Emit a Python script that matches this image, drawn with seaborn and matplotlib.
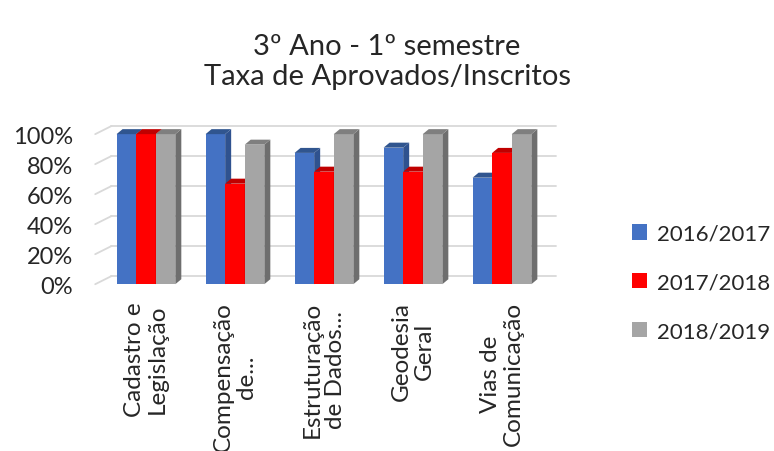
import matplotlib
matplotlib.use('Agg')
import matplotlib.pyplot as plt
from matplotlib.patches import Polygon
from matplotlib.ticker import PercentFormatter
import matplotlib.transforms as mtransforms
import seaborn as sns
import pandas as pd

disciplinas = ['Cadastro e\nLegislação', 'Compensação\nde...', 'Estruturação\nde Dados...',
               'Geodesia\nGeral', 'Vias de\nComunicação']
anos = ['2016/2017', '2017/2018', '2018/2019']
taxa_1617 = [1.00, 1.00, 0.875, 0.91, 0.71]
taxa_1718 = [1.00, 0.67, 0.75, 0.75, 0.875]
taxa_1819 = [1.00, 0.93, 1.00, 1.00, 1.00]
cores = ['#4472C4', '#FF0000', '#A5A5A5']
cores_lado = ['#2F528F', '#C00000', '#6E6E6E']
cores_topo = ['#30558F', '#C00000', '#7F7F7F']

df = pd.DataFrame({
    'Disciplina': disciplinas * 3,
    'Ano': [a for a in anos for _ in disciplinas],
    'Taxa': taxa_1617 + taxa_1718 + taxa_1819,
})

sns.set_style('white')
plt.rcParams['font.family'] = ['Lato', 'DejaVu Sans']

fig = plt.figure(figsize=(7.74, 4.52), dpi=100)
ax = fig.add_axes([0.123, 0.369, 0.575, 0.332])

sns.barplot(data=df, x='Disciplina', y='Taxa', hue='Ano', palette=cores,
            width=0.66, saturation=1, linewidth=0, ax=ax, legend=True)

ax.set_ylim(0, 1)
ax.set_xlim(-0.57, 4.43)
ax.yaxis.set_major_formatter(PercentFormatter(1.0, decimals=0))
ax.set_yticks([0, 0.2, 0.4, 0.6, 0.8, 1.0])
ax.tick_params(axis='y', labelsize=17, length=0, pad=16)
ax.tick_params(axis='x', labelsize=17.5, length=0, pad=12)
for lbl in ax.get_xticklabels():
    lbl.set_rotation(90)
    lbl.set_multialignment('center')
    lbl.set_va('top')
    lbl.set_linespacing(1.15)
ax.set_xlabel('')
ax.set_ylabel('')
sns.despine(ax=ax, left=True, bottom=True)

# back wall gridlines (shifted up/right) and slanted side-wall lines
dx_px, dy_px = 16, 8
back = mtransforms.offset_copy(ax.transData, fig=fig, x=dx_px, y=dy_px, units='dots')
x0, x1 = ax.get_xlim()
for v in ax.get_yticks():
    ax.plot([x0, x1], [v, v], color='#D9D9D9', lw=1.3,
            transform=back, clip_on=False, zorder=1)
    p0 = ax.transData.transform((x0, v))
    ax.plot([p0[0], p0[0] + dx_px], [p0[1], p0[1] + dy_px], color='#D9D9D9', lw=1.3,
            transform=mtransforms.IdentityTransform(), clip_on=False, zorder=1)

# 3D side and top faces derived from the drawn bars
sx, sy = 6, 5
for i, (cont, c_lado, c_topo) in enumerate(zip(ax.containers, cores_lado, cores_topo)):
    for bar in cont:
        bar.set_zorder(3 + i)
        x, w, h = bar.get_x(), bar.get_width(), bar.get_height()
        (xl, yb), (xr, yt) = ax.transData.transform([(x, 0), (x + w, h)])
        lado = Polygon([(xr, yb), (xr + sx, yb + sy), (xr + sx, yt + sy), (xr, yt)],
                       closed=True, facecolor=c_lado, edgecolor='none',
                       transform=mtransforms.IdentityTransform(), clip_on=False, zorder=3.5 + i)
        topo = Polygon([(xl, yt), (xl + sx, yt + sy), (xr + sx, yt + sy), (xr, yt)],
                       closed=True, facecolor=c_topo, edgecolor='none',
                       transform=mtransforms.IdentityTransform(), clip_on=False, zorder=3.5 + i)
        ax.add_artist(lado)
        ax.add_artist(topo)

ax.legend(loc='center left', bbox_to_anchor=(0.816, 0.373), bbox_transform=fig.transFigure,
          frameon=False, fontsize=16, handlelength=0.7, handleheight=0.7,
          handletextpad=0.45, labelspacing=1.3, title=None, borderpad=0, borderaxespad=0)

fig.text(0.5, 0.896, '3º Ano - 1º semestre', ha='center', va='center', fontsize=21)
fig.text(0.5, 0.83, 'Taxa de Aprovados/Inscritos', ha='center', va='center', fontsize=21)

fig.savefig('out.png', dpi=100)
